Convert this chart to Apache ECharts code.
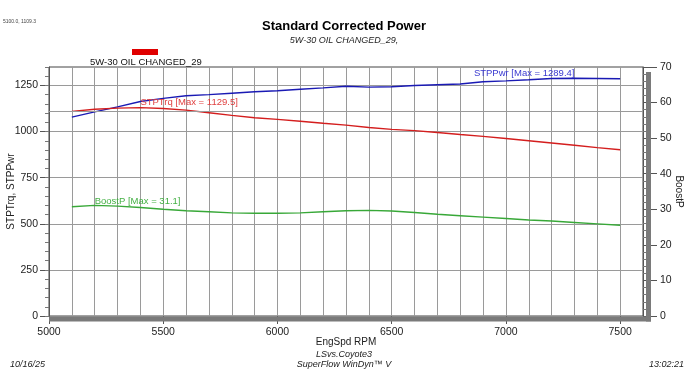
<!DOCTYPE html>
<html><head><meta charset="utf-8">
<script src="https://cdn.jsdelivr.net/npm/echarts@6/dist/echarts.min.js"></script>
<style>html,body{margin:0;padding:0;background:#fff}#c{width:688px;height:387px}</style>
</head><body><div id="c"></div>
<script>
const rpm = [5100,5200,5300,5400,5500,5600,5700,5800,5900,6000,6100,6200,6300,6400,6500,6600,6700,6800,6900,7000,7100,7200,7300,7400,7500];
const stpPwr = [1078,1107,1134,1163,1180,1194,1200,1208,1216,1221,1229,1237,1246,1241,1243,1250,1254,1258,1270,1275,1281,1288,1289.4,1288,1286];
const stpTrq = [1109.3,1121,1127,1129.5,1125,1116,1102,1088,1075,1066,1056,1045,1035,1022,1012,1005,995,984,974,962,950,938,926,913,901];
const boostP = [30.7,31.1,30.9,30.5,30.0,29.6,29.3,29.0,28.9,28.9,29.0,29.3,29.6,29.7,29.5,29.1,28.6,28.2,27.8,27.4,27.0,26.7,26.3,25.9,25.5];
const xTicks = [5000,5500,6000,6500,7000,7500];
const leftTicks = [0,250,500,750,1000,1250];
const cursor = [5100.0, 1109.3];

const F = 'Arial, "Liberation Sans", sans-serif';
const pair = a => rpm.map((r,i)=>[r,a[i]]);
const maxOf = a => Math.max(...a);
const plain = v => String(v);
const chart = echarts.init(document.getElementById('c'), null, {renderer:'canvas'});
const gridCol = '#9a9a9a';
chart.setOption({
  animation:false,
  textStyle:{fontFamily:F},
  title:{
    text:'Standard Corrected Power',
    subtext:'5W-30 OIL CHANGED_29,',
    left:'center', top:15, itemGap:3,
    textStyle:{fontSize:13,fontWeight:'bold',color:'#000',fontFamily:F},
    subtextStyle:{fontSize:9,fontStyle:'italic',color:'#222',fontFamily:F}
  },
  grid:{left:49,right:45,top:67,bottom:71,show:true,borderColor:'#444',borderWidth:1,
        containLabel:false,outerBoundsMode:'none'},
  xAxis:[{
    type:'value',min:5000,max:7600,interval:100,
    axisLine:{show:false},axisTick:{show:false},axisLabel:{show:false},
    splitLine:{show:true,lineStyle:{color:gridCol,width:1}}
  },{
    type:'value',min:5000,max:7600,interval:500,position:'bottom',
    name:'EngSpd RPM',nameLocation:'middle',nameGap:21,nameMoveOverlap:false,
    nameTextStyle:{fontSize:10,color:'#222',fontFamily:F},
    axisLine:{show:false},
    axisTick:{show:true,length:8,lineStyle:{color:'#555'},customValues:xTicks},
    axisLabel:{fontSize:10.5,color:'#222',margin:11,formatter:plain,customValues:xTicks},
    splitLine:{show:false}
  }],
  yAxis:[{
    type:'value',min:0,max:1350,interval:250,position:'left',
    name:'STPTrq, STPPwr',nameLocation:'middle',nameGap:33,nameMoveOverlap:false,
    nameTextStyle:{fontSize:10,color:'#222',fontFamily:F},
    axisLine:{show:true,lineStyle:{color:'#555'}},
    axisTick:{show:true,length:9,lineStyle:{color:'#555'},customValues:leftTicks},
    axisLabel:{fontSize:10.5,color:'#222',margin:11,formatter:plain,customValues:leftTicks},
    splitLine:{show:true,lineStyle:{color:gridCol,width:1}}
  },{
    type:'value',min:0,max:1350,interval:50,position:'left',offset:0,
    axisLine:{show:false},
    axisTick:{show:true,length:4,lineStyle:{color:'#777'}},
    axisLabel:{show:false},splitLine:{show:false}
  },{
    type:'value',min:0,max:70,interval:10,position:'right',
    name:'BoostP',nameLocation:'middle',nameGap:31,nameRotate:-90,nameMoveOverlap:false,
    nameTextStyle:{fontSize:10,color:'#222',fontFamily:F},
    axisLine:{show:true,lineStyle:{color:'#555'}},
    axisTick:{show:true,length:14,lineStyle:{color:'#555'}},
    minorTick:{show:true,splitNumber:5,length:5,lineStyle:{color:'#777'}},
    axisLabel:{fontSize:10.5,color:'#222',margin:17,formatter:plain},
    splitLine:{show:false}
  }],
  series:[{
    name:'STPPwr',type:'line',xAxisIndex:0,yAxisIndex:0,showSymbol:false,smooth:false,
    data:pair(stpPwr),lineStyle:{color:'#1a1ab4',width:1.4},itemStyle:{color:'#1a1ab4'},
    markPoint:{symbolSize:0,data:[{type:'max'}],
      label:{show:true,position:'left',distance:0,offset:[0,-5],fontSize:9.5,color:'#3a3ad0',
        formatter:'STPPwr [Max = '+maxOf(stpPwr)+']'}}
  },{
    name:'STPTrq',type:'line',xAxisIndex:0,yAxisIndex:0,showSymbol:false,
    data:pair(stpTrq),lineStyle:{color:'#d41e1e',width:1.4},itemStyle:{color:'#d41e1e'},
    markPoint:{symbolSize:0,data:[{type:'max'}],
      label:{show:true,position:'right',distance:0,offset:[0,-5],fontSize:9.5,color:'#e04040',
        formatter:'STPTrq [Max = '+maxOf(stpTrq)+']'}},
    markLine:{silent:true,symbol:'none',label:{show:false},
      lineStyle:{color:gridCol,type:'solid',width:1},data:[{yAxis:cursor[1]}]}
  },{
    name:'BoostP',type:'line',xAxisIndex:0,yAxisIndex:2,showSymbol:false,
    data:pair(boostP),lineStyle:{color:'#38a838',width:1.4},itemStyle:{color:'#38a838'},
    markPoint:{symbolSize:0,data:[{type:'max'}],
      label:{show:true,position:'right',distance:0,offset:[0,-4],fontSize:9.5,color:'#44b044',
        formatter:'BoostP [Max = '+maxOf(boostP)+']'}}
  }],
  graphic:[
    {type:'rect',shape:{x:49,y:316.5,width:602,height:5},style:{fill:'#7a7a7a'},z:50},
    {type:'rect',shape:{x:646,y:72,width:5,height:249.5},style:{fill:'#7a7a7a'},z:50},
    {type:'rect',shape:{x:132,y:49,width:26,height:6},style:{fill:'#e00000'}},
    {type:'text',left:90,top:57,style:{text:'5W-30 OIL CHANGED_29',font:'9.5px '+F,fill:'#111'}},
    {type:'text',left:3,top:19,style:{text:cursor[0].toFixed(1)+', '+cursor[1].toFixed(1),font:'5px '+F,fill:'#444'}},
    {type:'text',left:'center',top:350,style:{text:'LSvs.Coyote3',font:'italic 9px '+F,fill:'#222',align:'center'}},
    {type:'text',left:'center',top:360,style:{text:'SuperFlow WinDyn\u2122 V',font:'italic 9px '+F,fill:'#222',align:'center'}},
    {type:'text',left:10,top:360,style:{text:'10/16/25',font:'italic 9px '+F,fill:'#222'}},
    {type:'text',right:4,top:360,style:{text:'13:02:21',font:'italic 9px '+F,fill:'#222'}}
  ]
});
</script></body></html>
